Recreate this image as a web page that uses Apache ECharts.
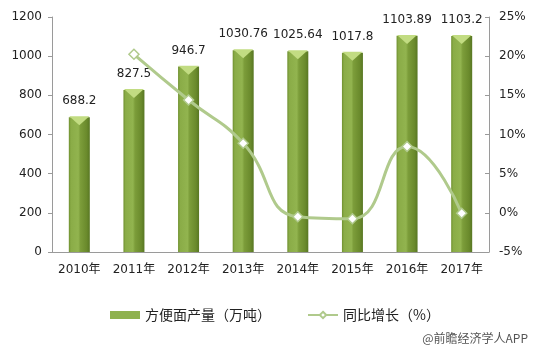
<!DOCTYPE html>
<html><head><meta charset="utf-8">
<script src="https://cdn.jsdelivr.net/npm/echarts@6/dist/echarts.min.js"></script>
<style>html,body{margin:0;padding:0;background:#fff}#c{width:534px;height:350px}</style>
</head><body><div id="c"></div>
<script>
const categories = ['2010年','2011年','2012年','2013年','2014年','2015年','2016年','2017年'];
const output = [688.2, 827.5, 946.7, 1030.76, 1025.64, 1017.8, 1103.89, 1103.2];
const growth = [null, 20.24, 14.40, 8.88, -0.50, -0.76, 8.46, -0.06];
const leftTicks = {min: 0, max: 1200, interval: 200};
const rightTicks = {min: -5, max: 25, interval: 5};

const chart = echarts.init(document.getElementById('c'));
const font = '"Noto Sans CJK SC", "DejaVu Sans", sans-serif';
const numFont = '"DejaVu Sans", "Noto Sans CJK SC", sans-serif';
const barGrad = new echarts.graphic.LinearGradient(0,0,1,0,[
  {offset:0,color:'#6f902f'},{offset:0.1,color:'#8aac47'},{offset:0.45,color:'#92b44f'},{offset:0.55,color:'#7c9d3a'},{offset:0.85,color:'#6a8a2c'},{offset:1,color:'#587723'}]);
chart.setOption({
  animation:false,
  textStyle:{fontFamily:font},
  grid:{left:52,right:45,top:17,bottom:98},
  legend:{
    top:303, left:105, itemGap:36, itemWidth:30, itemHeight:8,
    textStyle:{fontSize:14,color:'#222',fontFamily:font},
    data:[{name:'方便面产量（万吨）',icon:'rect',itemStyle:{color:'#8fb24f'}},
          {name:'同比增长（%）'}]
  },
  xAxis:{type:'category',data:categories,
    axisLine:{lineStyle:{color:'#9a9a9a'}},axisTick:{show:false},
    axisLabel:{color:'#222',fontSize:12,margin:12,interval:0,fontFamily:numFont}},
  yAxis:[
    {type:'value',min:leftTicks.min,max:leftTicks.max,interval:leftTicks.interval,
     axisLine:{show:true,lineStyle:{color:'#9a9a9a'}},axisTick:{show:true,length:4,lineStyle:{color:'#9a9a9a'}},
     splitLine:{show:false},axisLabel:{color:'#222',fontSize:12,margin:10,fontFamily:numFont,formatter:v=>String(v)}},
    {type:'value',min:rightTicks.min,max:rightTicks.max,interval:rightTicks.interval,
     axisLine:{show:true,lineStyle:{color:'#9a9a9a'}},axisTick:{show:true,inside:true,length:4,lineStyle:{color:'#9a9a9a'}},
     splitLine:{show:false},axisLabel:{color:'#222',fontSize:12,margin:10,formatter:'{value}%',fontFamily:numFont}}
  ],
  series:[
    {name:'方便面产量（万吨）',type:'bar',data:output,barWidth:21,z:2,
     itemStyle:{color:barGrad},
     label:{show:true,position:'top',distance:10,color:'#222',fontSize:12,fontFamily:numFont}},
    {name:'tops',type:'pictorialBar',data:output,symbol:'path://M0,0 L10,0 L5,6 Z',
     symbolSize:[20,9],symbolPosition:'end',symbolOffset:[0,'-10%'],z:3,
     itemStyle:{color:'#c2dc82'},silent:true,legendHoverLink:false},
    {name:'同比增长（%）',type:'line',yAxisIndex:1,data:growth,smooth:true,z:5,
     symbol:'diamond',symbolSize:10,showSymbol:true,
     lineStyle:{color:'#b0ca8c',width:3},
     itemStyle:{color:'#ffffff',borderColor:'#b0ca8c',borderWidth:1.5}}
  ],
  graphic:[{type:'text',right:6,bottom:6,style:{text:'@前瞻经济学人APP',fill:'#555',font:'12px '+font}}]
});
</script></body></html>
